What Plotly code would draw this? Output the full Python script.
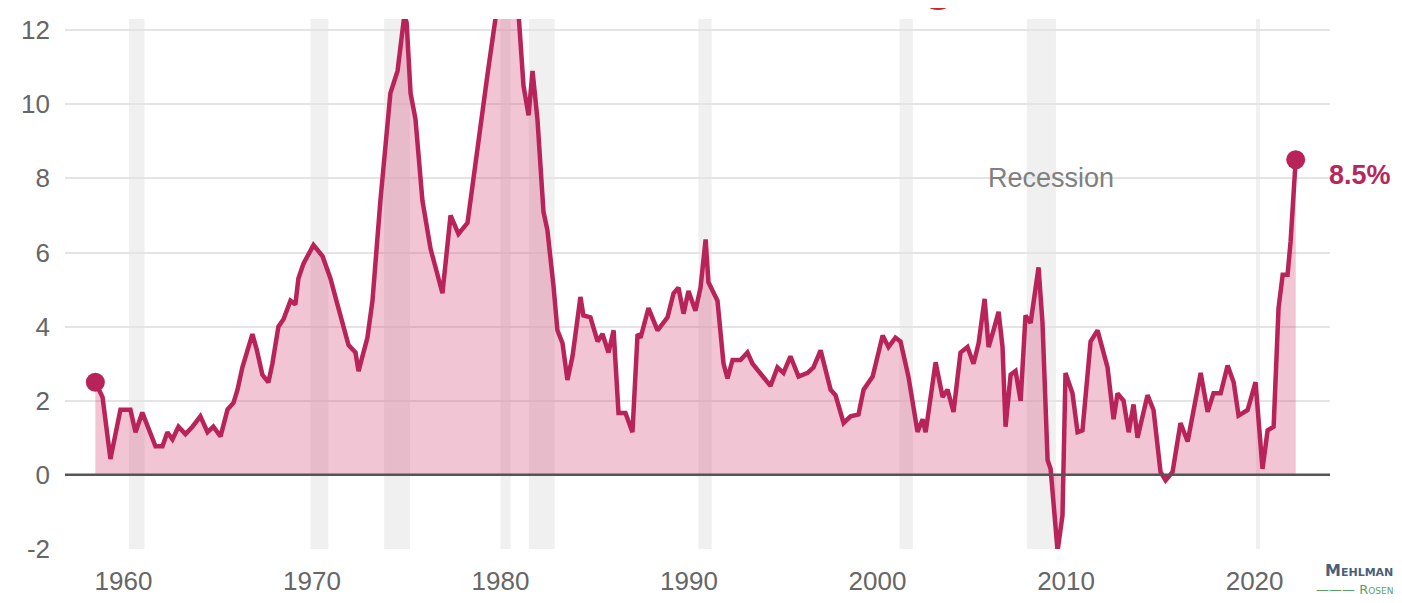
import plotly.graph_objects as go

# Year-over-year CPI inflation (%)
years = [1958.51, 1958.89, 1959.31, 1959.84, 1960.37, 1960.64, 1961.0, 1961.33, 1961.7, 1962.07,
         1962.33, 1962.6, 1962.92, 1963.29, 1963.66, 1964.08, 1964.46, 1964.77, 1965.15, 1965.52,
         1965.84, 1966.05, 1966.31, 1966.84, 1967.06, 1967.37, 1967.69, 1967.9, 1968.22, 1968.49,
         1968.86, 1969.12, 1969.28, 1969.55, 1970.08, 1970.56, 1970.98, 1971.35, 1971.51, 1971.94,
         1972.31, 1972.47, 1972.73, 1972.94, 1973.21, 1973.63, 1974.16, 1974.54, 1974.9, 1975.02,
         1975.23, 1975.49, 1975.86, 1976.29, 1976.66, 1976.92, 1977.35, 1977.77, 1978.25, 1978.78,
         1979.31, 1979.73, 1980.0, 1980.25, 1980.6, 1980.95, 1981.22, 1981.49, 1981.7, 1981.96,
         1982.28, 1982.49, 1982.81, 1983.02, 1983.29, 1983.55, 1983.82, 1984.24, 1984.4, 1984.77,
         1985.15, 1985.41, 1985.73, 1986.0, 1986.26, 1986.63, 1987.0, 1987.27, 1987.43, 1987.85,
         1988.33, 1988.86, 1989.18, 1989.44, 1989.71, 1989.97, 1990.34, 1990.61, 1990.88, 1991.03,
         1991.51, 1991.83, 1992.04, 1992.31, 1992.73, 1993.1, 1993.37, 1993.79, 1994.32, 1994.69,
         1995.01, 1995.38, 1995.81, 1996.29, 1996.6, 1996.98, 1997.51, 1997.77, 1998.2, 1998.57,
         1998.99, 1999.26, 1999.74, 2000.27, 2000.58, 2000.95, 2001.22, 2001.64, 2002.12, 2002.39,
         2002.55, 2003.08, 2003.45, 2003.71, 2004.03, 2004.4, 2004.77, 2005.09, 2005.36, 2005.68,
         2005.89, 2006.15, 2006.42, 2006.63, 2006.79, 2007.06, 2007.32, 2007.59, 2007.85, 2008.12,
         2008.54, 2008.75, 2009.02, 2009.18, 2009.55, 2009.81, 2009.97, 2010.34, 2010.61, 2010.87,
         2011.3, 2011.67, 2012.2, 2012.52, 2012.73, 2013.05, 2013.32, 2013.58, 2013.79, 2014.32,
         2014.64, 2015.01, 2015.28, 2015.65, 2016.07, 2016.45, 2016.76, 2017.14, 2017.51, 2017.82,
         2018.2, 2018.57, 2018.89, 2019.15, 2019.63, 2020.05, 2020.42, 2020.69, 2021.01, 2021.27,
         2021.49, 2021.75, 2021.91, 2022.18]
inflation = [2.5, 2.1, 0.43, 1.76, 1.76, 1.15, 1.68, 1.23, 0.77, 0.77,
             1.15, 0.96, 1.3, 1.1, 1.3, 1.58, 1.15, 1.3, 1.04, 1.76,
             1.95, 2.3, 2.9, 3.8, 3.4, 2.7, 2.5, 3.0, 4.0, 4.2,
             4.7, 4.6, 5.3, 5.7, 6.2, 5.9, 5.3, 4.6, 4.3, 3.5,
             3.3, 2.8, 3.3, 3.7, 4.7, 7.4, 10.3, 10.9, 12.4, 12.2,
             10.3, 9.6, 7.4, 6.1, 5.4, 4.9, 7.0, 6.5, 6.8, 8.9,
             10.8, 12.3, 13.9, 14.7, 13.2, 12.5, 10.5, 9.7, 10.9, 9.6,
             7.1, 6.6, 5.1, 3.9, 3.55, 2.56, 3.2, 4.8, 4.3, 4.25,
             3.6, 3.8, 3.3, 3.9, 1.67, 1.67, 1.15, 3.8, 3.7, 4.5,
             3.9, 4.25, 4.9, 5.05, 4.35, 4.96, 4.43, 5.05, 6.35, 5.2,
             4.7, 3.0, 2.6, 3.1, 3.1, 3.3, 3.0, 2.75, 2.4, 2.9,
             2.75, 3.2, 2.65, 2.75, 2.9, 3.36, 2.3, 2.15, 1.4, 1.58,
             1.63, 2.3, 2.65, 3.76, 3.45, 3.7, 3.6, 2.65, 1.16, 1.5,
             1.15, 3.04, 2.1, 2.3, 1.7, 3.3, 3.45, 3.0, 3.55, 4.75,
             3.45, 3.9, 4.4, 3.45, 1.3, 2.7, 2.8, 2.0, 4.3, 4.1,
             5.6, 4.1, 0.4, 0.16, -2.05, -1.1, 2.75, 2.2, 1.15, 1.2,
             3.6, 3.9, 2.9, 1.5, 2.2, 2.0, 1.15, 1.9, 1.0, 2.15,
             1.75, 0.08, -0.15, 0.08, 1.4, 0.9, 1.7, 2.75, 1.7, 2.2,
             2.2, 2.95, 2.5, 1.6, 1.75, 2.5, 0.16, 1.2, 1.3, 4.5,
             5.4, 5.4, 6.3, 8.5]

# NBER recessions (start, end) in decimal years
recession_start = [1960.29, 1969.92, 1973.83, 1980.0, 1981.5, 1990.5, 2001.17, 2007.92, 2020.08]
recession_end = [1961.12, 1970.87, 1975.2, 1980.54, 1982.87, 1991.2, 2001.87, 2009.46, 2020.29]

x_ticks = [1960, 1970, 1980, 1990, 2000, 2010, 2020]
y_ticks = [-2, 0, 2, 4, 6, 8, 10, 12]

LINE = "#b8245a"
FILL = "rgba(214,80,120,0.33)"
TEXT_FONT = "Liberation Sans, Arial, sans-serif"

# figure sits 8px inside the page (body margin)
W, H = 1394, 595
ML, MR, MT, MB = 57, 72, 7, 53
PW = W - ML - MR
PH = H - MT - MB


def px_to_paper_x(px):
    return (px - 8 - ML) / PW


def px_to_paper_y(py):
    return 1 - (py - 8 - MT) / PH


fig = go.Figure()

fig.add_trace(go.Scatter(
    x=years, y=inflation, mode="lines",
    line=dict(color=LINE, width=4.5),
    fill="tozeroy", fillcolor=FILL,
    hoverinfo="x+y", showlegend=False,
))

# end-point markers
fig.add_trace(go.Scatter(
    x=[years[0], years[-1]], y=[inflation[0], inflation[-1]], mode="markers",
    marker=dict(color=LINE, size=19),
    showlegend=False, hoverinfo="skip",
))

shapes = []
for s, e in zip(recession_start, recession_end):
    shapes.append(dict(type="rect", xref="x", yref="paper", x0=s, x1=e, y0=0, y1=1,
                       fillcolor="#f0f0f0", line=dict(width=0), layer="below"))
# zero line
shapes.append(dict(type="line", xref="paper", yref="y", x0=0, x1=1, y0=0, y1=0,
                   line=dict(color="#555555", width=2.5), layer="above"))
# partial red circle from the cut-off title
shapes.append(dict(type="circle", xref="paper", yref="paper",
                   x0=px_to_paper_x(920), x1=px_to_paper_x(956),
                   y0=px_to_paper_y(6), y1=px_to_paper_y(-30),
                   fillcolor="#c8262f", line=dict(width=0)))

annotations = [
    dict(x=2009.2, y=8.0, xref="x", yref="y", text="Recession", showarrow=False,
         font=dict(family=TEXT_FONT, size=27, color="#808080")),
    dict(x=px_to_paper_x(1327), y=8.1, xref="paper", yref="y", text="<b>8.5%</b>",
         xanchor="left", showarrow=False,
         font=dict(family=TEXT_FONT, size=27, color="#b5285c")),
    dict(x=px_to_paper_x(1395), y=px_to_paper_y(572), xref="paper", yref="paper",
         text="<b>Mehlman</b>", xanchor="right", yanchor="middle", showarrow=False,
         font=dict(family="DejaVu Sans, sans-serif", size=16, color="#4a5f7a",
                   variant="small-caps")),
    dict(x=px_to_paper_x(1395), y=px_to_paper_y(591), xref="paper", yref="paper",
         text="——— Rosen", xanchor="right", yanchor="middle", showarrow=False,
         font=dict(family="DejaVu Sans, sans-serif", size=13, color="#5aa064",
                   variant="small-caps")),
]

fig.update_layout(
    width=W, height=H,
    margin=dict(l=ML, r=MR, t=MT, b=MB),
    paper_bgcolor="white", plot_bgcolor="white",
    shapes=shapes, annotations=annotations,
    xaxis=dict(range=[1956.9, 2024.0], tickvals=x_ticks, ticktext=[str(t) for t in x_ticks],
               showgrid=False, zeroline=False, showline=False, ticks="",
               tickfont=dict(family=TEXT_FONT, size=26, color="#666666"),
               ticklabelstandoff=14),
    yaxis=dict(range=[-2.0, 12.3], tickvals=y_ticks, ticktext=[str(t) for t in y_ticks],
               showgrid=True, gridcolor="#e4e4e4", gridwidth=2, zeroline=False,
               showline=False, ticks="",
               tickfont=dict(family=TEXT_FONT, size=26, color="#666666"),
               ticklabelstandoff=14),
)

fig.write_html("out.html")
